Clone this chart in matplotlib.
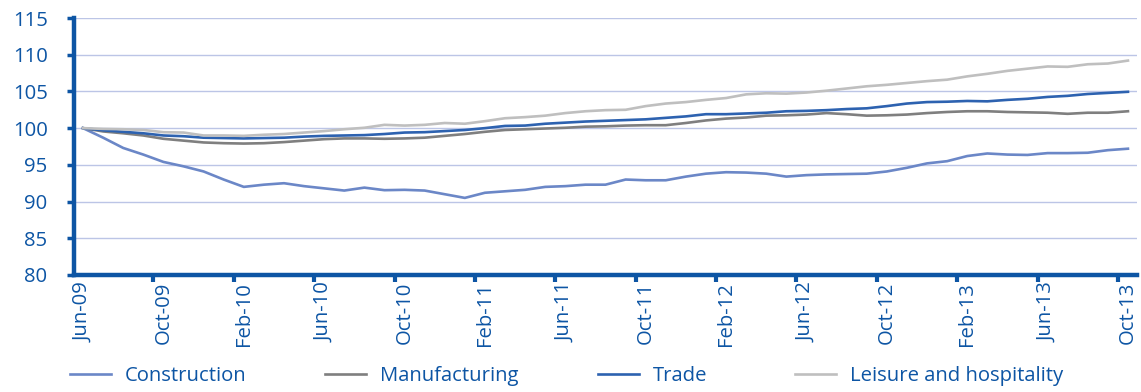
import matplotlib
matplotlib.use("Agg")
import matplotlib.pyplot as plt
import numpy as np

plt.rcParams['font.family'] = ['Open Sans', 'DejaVu Sans']

# monthly index, Jun-09 = 100, through Oct-13
months = ["Jun-09", "Jul-09", "Aug-09", "Sep-09", "Oct-09", "Nov-09", "Dec-09",
          "Jan-10", "Feb-10", "Mar-10", "Apr-10", "May-10", "Jun-10", "Jul-10",
          "Aug-10", "Sep-10", "Oct-10", "Nov-10", "Dec-10", "Jan-11", "Feb-11",
          "Mar-11", "Apr-11", "May-11", "Jun-11", "Jul-11", "Aug-11", "Sep-11",
          "Oct-11", "Nov-11", "Dec-11", "Jan-12", "Feb-12", "Mar-12", "Apr-12",
          "May-12", "Jun-12", "Jul-12", "Aug-12", "Sep-12", "Oct-12", "Nov-12",
          "Dec-12", "Jan-13", "Feb-13", "Mar-13", "Apr-13", "May-13", "Jun-13",
          "Jul-13", "Aug-13", "Sep-13", "Oct-13"]

construction = [100.0, 98.7, 97.3, 96.4, 95.4, 94.8, 94.1, 93.0, 92.0, 92.3,
                92.5, 92.1, 91.8, 91.5, 91.9, 91.55, 91.6, 91.5, 91.0, 90.5,
                91.2, 91.4, 91.6, 92.0, 92.1, 92.3, 92.3, 93.0, 92.9, 92.9,
                93.4, 93.8, 94.0, 93.95, 93.8, 93.4, 93.6, 93.7, 93.75, 93.8,
                94.1, 94.6, 95.2, 95.5, 96.2, 96.55, 96.4, 96.35, 96.6, 96.6,
                96.65, 97.0, 97.2]

manufacturing = [100.0, 99.55, 99.3, 99.0, 98.55, 98.3, 98.05, 97.95, 97.9, 97.95,
                 98.1, 98.3, 98.5, 98.6, 98.6, 98.55, 98.6, 98.7, 98.95, 99.2,
                 99.5, 99.75, 99.85, 99.95, 100.05, 100.2, 100.25, 100.35, 100.4, 100.4,
                 100.7, 101.05, 101.3, 101.45, 101.7, 101.75, 101.85, 102.05, 101.9, 101.7,
                 101.75, 101.85, 102.05, 102.2, 102.3, 102.3, 102.2, 102.15, 102.1, 101.95,
                 102.1, 102.1, 102.3]

trade = [100.0, 99.7, 99.5, 99.3, 99.0, 98.9, 98.7, 98.65, 98.6, 98.65,
         98.7, 98.85, 98.95, 99.0, 99.05, 99.2, 99.4, 99.45, 99.6, 99.75,
         100.0, 100.3, 100.35, 100.6, 100.75, 100.9, 101.0, 101.1, 101.2, 101.4,
         101.6, 101.9, 101.9, 102.0, 102.1, 102.3, 102.35, 102.45, 102.6, 102.7,
         103.0, 103.35, 103.55, 103.6, 103.7, 103.65, 103.85, 104.0, 104.25, 104.4,
         104.65, 104.8, 104.95]

leisure = [100.0, 99.9, 99.85, 99.75, 99.45, 99.4, 99.0, 99.0, 98.95, 99.1,
           99.2, 99.4, 99.6, 99.85, 100.05, 100.45, 100.35, 100.45, 100.7, 100.6,
           100.95, 101.35, 101.5, 101.7, 102.05, 102.3, 102.45, 102.5, 103.0, 103.35,
           103.55, 103.85, 104.1, 104.6, 104.75, 104.7, 104.85, 105.1, 105.4, 105.7,
           105.9, 106.15, 106.4, 106.6, 107.05, 107.4, 107.8, 108.1, 108.4, 108.35,
           108.7, 108.8, 109.2]

series_names = ["Construction", "Manufacturing", "Trade", "Leisure and hospitality"]
series_colors = ["#6B87C7", "#7F7F7F", "#2D62B0", "#BFBFBF"]

BLUE = "#0D55A4"
FS = 14.6

fig = plt.figure(figsize=(11.41, 3.92), dpi=100)
ax = fig.add_axes([74 / 1141, 1 - 275 / 392, (1137 - 74) / 1141, (275 - 18) / 392])

x = np.arange(len(months))
lines = []
for vals, name, col in zip([construction, manufacturing, trade, leisure],
                           series_names, series_colors):
    ln, = ax.plot(x, vals, color=col, lw=1.9, label=name, solid_joinstyle="round")
    lines.append(ln)

ax.set_ylim(80, 115)
ax.set_xlim(-0.45, len(months) - 1 + 0.45)
ax.set_yticks(np.arange(80, 116, 5))
ax.yaxis.grid(True, color="#BCC5E6", lw=1.0)
ax.set_axisbelow(True)

# labels every four months, marks on the category boundaries
ax.set_xticks(x[::4])
ax.set_xticklabels(months[::4], rotation=90)
ax.set_xticks(x[4::4] - 0.5, minor=True)
ax.tick_params(axis="x", which="major", length=0, pad=5, labelsize=FS, labelcolor=BLUE)
ax.tick_params(axis="x", which="minor", length=5, width=3, color=BLUE, direction="out")
ax.tick_params(axis="y", length=5, width=2.5, color=BLUE, pad=14, labelsize=FS,
               labelcolor=BLUE)

for s in ["top", "right"]:
    ax.spines[s].set_visible(False)
for s in ["left", "bottom"]:
    ax.spines[s].set_color(BLUE)
    ax.spines[s].set_linewidth(3.2)

# legend entries spread along the bottom
legend_x = [70, 325, 598, 795]
for ln, lx in zip(lines, legend_x):
    lg = fig.legend(handles=[ln], loc="center left", bbox_to_anchor=(lx / 1141, 1 - 376 / 392),
                    frameon=False, fontsize=FS, handlelength=2.0, handletextpad=0.72,
                    borderpad=0, borderaxespad=0)
    for t in lg.get_texts():
        t.set_color(BLUE)

fig.savefig("out.png", dpi=100)
